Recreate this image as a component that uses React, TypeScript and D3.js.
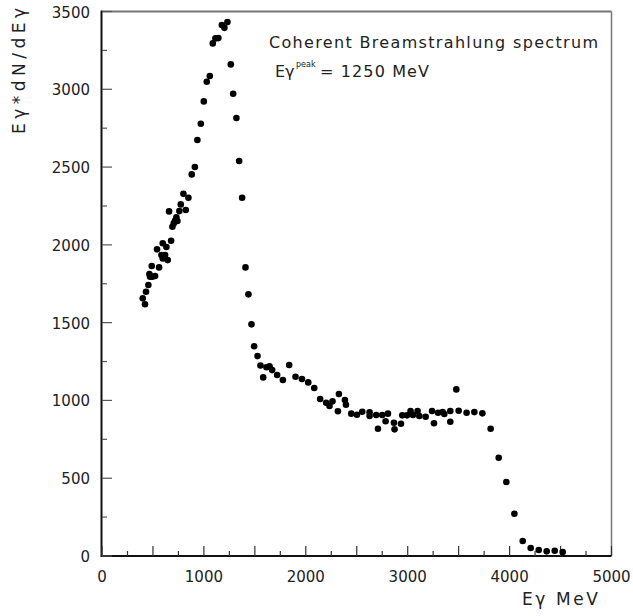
import React from "react";
import * as d3 from "d3";

// photon energy (MeV)
const energy: number[] = [
  400, 422, 432, 455, 465, 472, 494, 521, 488, 560, 540, 596, 583, 619, 596, 632, 645, 678, 691, 704,
  717, 740, 730, 658, 759, 822, 773, 799, 848, 881, 911, 936, 970, 999, 1028, 1058, 1087, 1113, 1142, 1176,
  1201, 1231, 1264, 1287, 1319, 1346, 1375, 1408, 1437, 1467, 1493, 1526, 1555, 1582, 1614, 1644, 1670, 1719, 1775, 1837,
  1899, 1962, 2024, 2083, 2141, 2200, 2233, 2262, 2315, 2325, 2384, 2394, 2446, 2502, 2554, 2626, 2626, 2691, 2708, 2750,
  2783, 2806, 2865, 2871, 2934, 2947, 2993, 3028, 3052, 3097, 3114, 3176, 3239, 3258, 3298, 3343, 3359, 3418, 3418, 3477,
  3500, 3578, 3654, 3733, 3814, 3893, 3968, 4047, 4129, 4207, 4286, 4364, 4443, 4521,
];
// Eγ*dN/dEγ
const intensity: number[] = [
  1656, 1618, 1699, 1742, 1812, 1795, 1795, 1800, 1864, 1855, 1971, 2010, 1935, 1935, 1913, 1986, 1902, 2026, 2116, 2138,
  2155, 2153, 2177, 2215, 2217, 2224, 2260, 2328, 2303, 2453, 2500, 2674, 2778, 2922, 3048, 3085, 3295, 3327, 3329, 3413,
  3395, 3432, 3160, 2971, 2815, 2539, 2303, 1855, 1682, 1489, 1348, 1285, 1225, 1148, 1213, 1219, 1195, 1163, 1131, 1228,
  1152, 1138, 1116, 1080, 1009, 985, 964, 994, 930, 1041, 1003, 972, 915, 908, 927, 923, 900, 906, 818, 906,
  866, 915, 857, 814, 850, 904, 904, 932, 906, 932, 900, 895, 932, 853, 921, 925, 913, 932, 863, 1071,
  934, 921, 925, 917, 818, 632, 476, 272, 96, 51, 39, 30, 34, 26,
];

const xLabelTicks: number[] = [0, 1000, 2000, 3000, 4000, 5000];
const yLabelTicks: number[] = [0, 500, 1000, 1500, 2000, 2500, 3000, 3500];

const W = 633;
const H = 616;
const FONT = "'DejaVu Sans', sans-serif";

export default function App() {
  const x = d3.scaleLinear().domain([0, 5000]).range([102, 611.5]);
  const y = d3.scaleLinear().domain([0, 3500]).range([556, 11.5]);
  const xMinor = d3.range(0, 5001, 250);
  const yMinor = d3.range(0, 3501, 250);
  const pts = energy.map((e, i) => ({ e, v: intensity[i] }));

  return (
    <svg
      width={W}
      height={H}
      style={{ position: "absolute", left: 0, top: 0, background: "#fff" }}
    >
      <rect x={0} y={0} width={W} height={H} fill="#fff" />
      {/* frame */}
      <line x1={x(0)} x2={x(5000)} y1={y(3500)} y2={y(3500)} stroke="#777" strokeWidth={2} />
      <line x1={x(5000)} x2={x(5000)} y1={y(3500)} y2={y(0)} stroke="#777" strokeWidth={1.5} />
      <line x1={x(0) - 0.5} x2={x(0) - 0.5} y1={y(3500) - 1} y2={y(0) + 1} stroke="#111" strokeWidth={2} />
      <line x1={x(0) - 1} x2={x(5000)} y1={y(0)} y2={y(0)} stroke="#111" strokeWidth={2} />

      {/* x ticks */}
      {xMinor.map((t) => (
        <line
          key={"xt" + t}
          x1={x(t)}
          x2={x(t)}
          y1={y(0)}
          y2={y(0) - (t % 500 === 0 ? 10 : 5)}
          stroke="#333"
          strokeWidth={1.2}
        />
      ))}
      {/* y ticks */}
      {yMinor.map((t) => (
        <line
          key={"yt" + t}
          x1={x(0)}
          x2={x(0) + (t % 500 === 0 ? 10 : 5)}
          y1={y(t)}
          y2={y(t)}
          stroke="#555"
          strokeWidth={1.2}
        />
      ))}

      {/* tick labels */}
      {xLabelTicks.map((t) => (
        <text
          key={"xl" + t}
          x={x(t)}
          y={582}
          textAnchor="middle"
          fontFamily={FONT}
          fontSize={15}
          fill="#222"
        >
          {t}
        </text>
      ))}
      {yLabelTicks.map((t) => (
        <text
          key={"yl" + t}
          x={90}
          y={y(t) + 6}
          textAnchor="end"
          fontFamily={FONT}
          fontSize={15}
          fill="#222"
        >
          {t}
        </text>
      ))}

      {/* axis titles */}
      <text
        x={598}
        y={605}
        textAnchor="end"
        fontFamily={FONT}
        fontSize={17}
        fill="#222"
        textLength={76}
        lengthAdjust="spacing"
      >
        Eγ MeV
      </text>
      <text
        transform={`translate(25,8) rotate(-90)`}
        textAnchor="end"
        fontFamily={FONT}
        fontSize={17}
        fill="#222"
        textLength={126}
        lengthAdjust="spacing"
      >
        Eγ*dN/dEγ
      </text>

      {/* annotations */}
      <text
        x={269}
        y={48}
        fontFamily={FONT}
        fontSize={16}
        fill="#222"
        textLength={329}
        lengthAdjust="spacing"
      >
        Coherent Breamstrahlung spectrum
      </text>
      <text x={275} y={77} fontFamily={FONT} fontSize={16} fill="#222">
        Eγ
      </text>
      <text x={296} y={67} fontFamily={FONT} fontSize={8} fill="#222">
        peak
      </text>
      <text
        x={320}
        y={77}
        fontFamily={FONT}
        fontSize={16}
        fill="#222"
        textLength={109}
        lengthAdjust="spacing"
      >
        = 1250 MeV
      </text>

      {/* data points */}
      {pts.map((p, i) => (
        <circle key={i} cx={x(p.e)} cy={y(p.v)} r={3.3} fill="#000" />
      ))}
    </svg>
  );
}
